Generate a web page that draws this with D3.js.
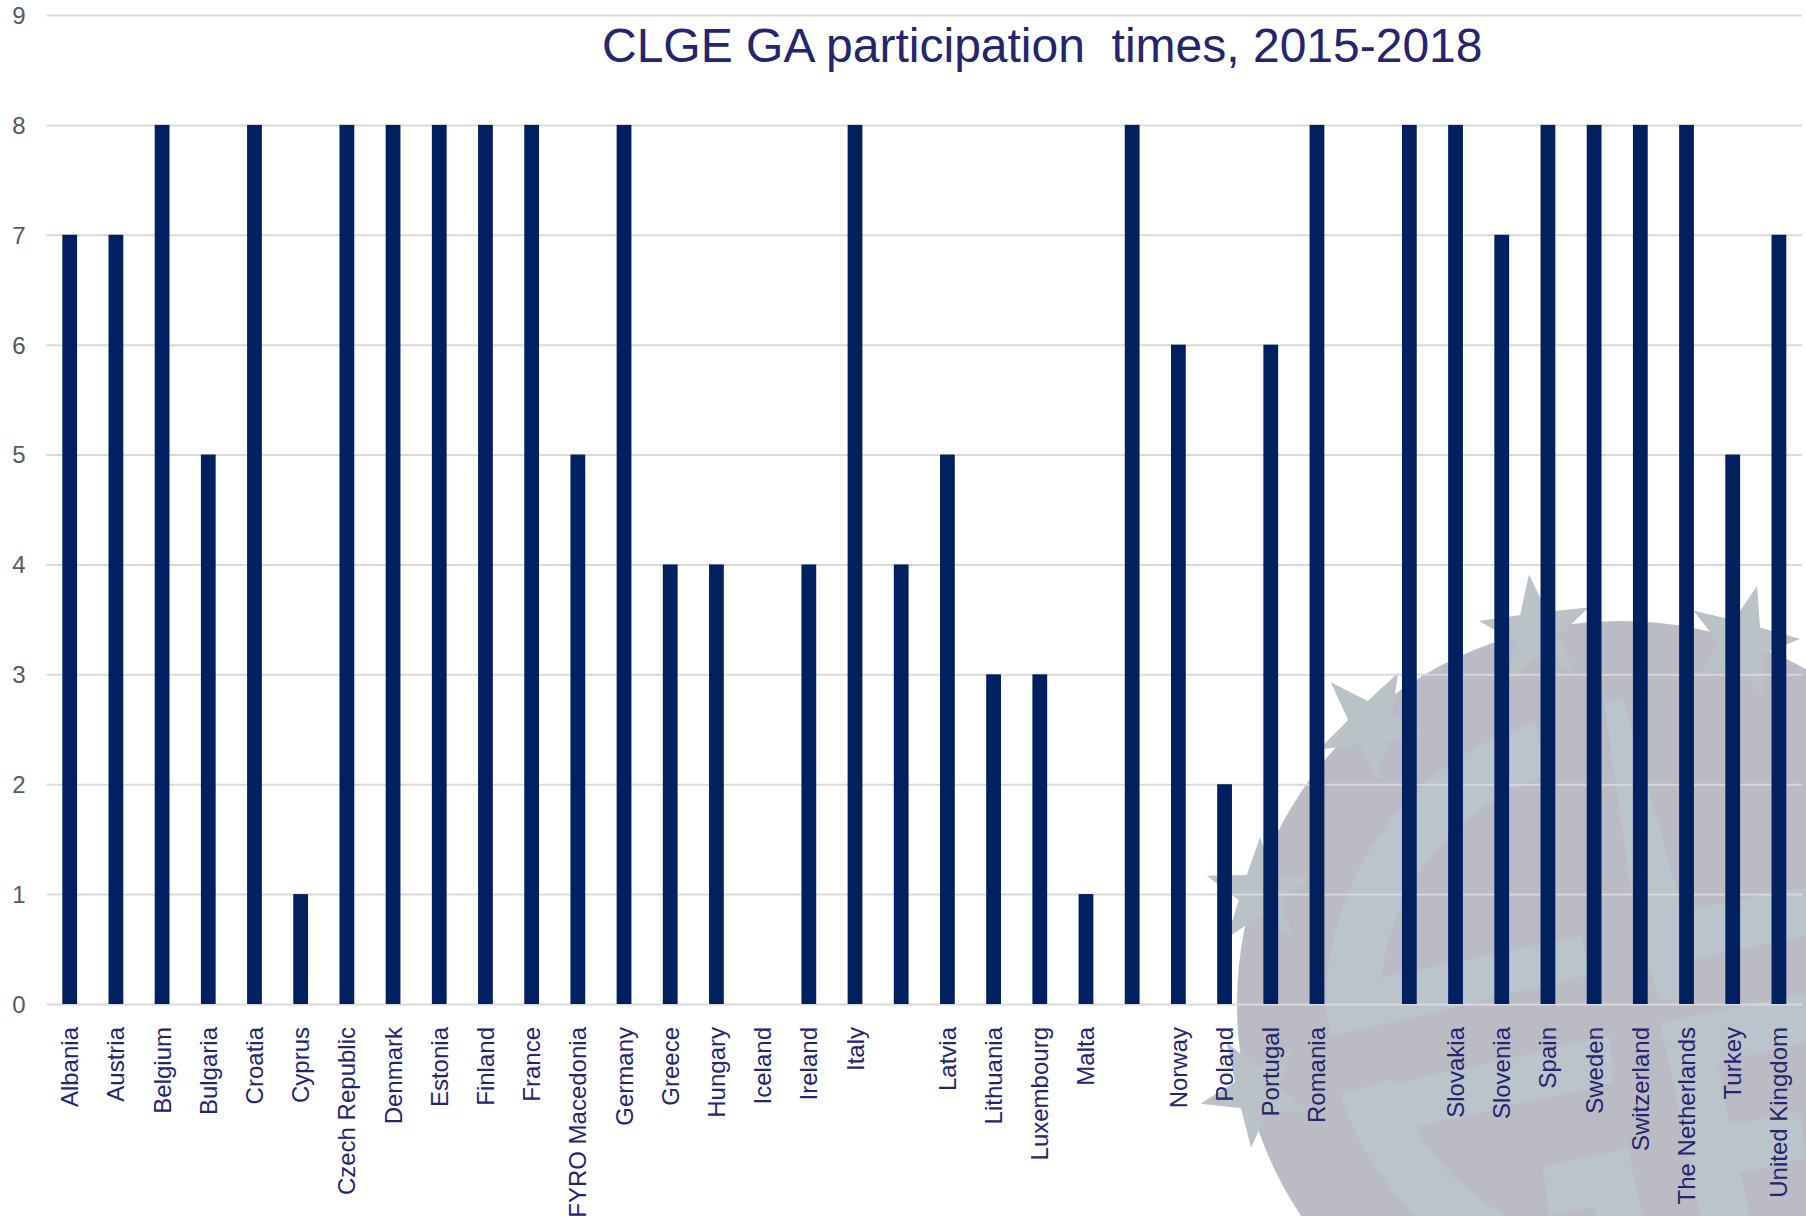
<!DOCTYPE html>
<html>
<head>
  <title>CLGE GA participation times</title>
  <script src="https://cdnjs.cloudflare.com/ajax/libs/d3/7.8.5/d3.min.js"></script>
  <style>
    html, body { margin: 0; background: #fff; }
    text { font-family: "Liberation Sans", Arial, sans-serif; }
  </style>
</head>
<body>
  <svg width="1806" height="1216"></svg>
<script>
var categories = ["Albania", "Austria", "Belgium", "Bulgaria", "Croatia", "Cyprus", "Czech Republic",
  "Denmark", "Estonia", "Finland", "France", "FYRO Macedonia", "Germany", "Greece", "Hungary",
  "Iceland", "Ireland", "Italy", "", "Latvia", "Lithuania", "Luxembourg", "Malta", "", "Norway",
  "Poland", "Portugal", "Romania", "", "", "Slovakia", "Slovenia", "Spain", "Sweden", "Switzerland",
  "The Netherlands", "Turkey", "United Kingdom"];
var times = [7, 7, 8, 5, 8, 1, 8, 8, 8, 8, 8, 5, 8, 4, 4, 0, 4, 8, 4, 5, 3, 3, 1, 8, 6, 2, 6, 8, 0, 8, 8, 7, 8, 8, 8, 8, 5, 7];
var yTicks = [0, 1, 2, 3, 4, 5, 6, 7, 8, 9];
var title = "CLGE GA participation  times, 2015-2018";

var svg = d3.select("svg"),
    margin = {top: 15, right: 4, bottom: 212, left: 46.6},
    width = +svg.attr("width") - margin.left - margin.right,
    height = +svg.attr("height") - margin.top - margin.bottom;

// watermark logo behind the chart (globe + stars)
var logo = svg.append("g");
var cx = 1620, cy = 1004, r = 383;
var lightColor = "#b9c4cc", darkColor = "#babbc5", starColor = "#b8c2c7";

svg.append("defs").append("clipPath")
    .attr("id", "globe")
  .append("circle")
    .attr("cx", cx).attr("cy", cy).attr("r", r);

logo.append("circle")
    .attr("cx", cx).attr("cy", cy).attr("r", r)
    .attr("fill", darkColor);

var inner = logo.append("g").attr("clip-path", "url(#globe)");

// ring segments round the globe
var ring = d3.arc().innerRadius(240).outerRadius(294);
[[-93, -17], [-155, -108]].forEach(function(a) {
  inner.append("path")
      .attr("transform", "translate(" + cx + "," + cy + ")")
      .attr("d", ring({startAngle: a[0] * Math.PI / 180, endAngle: a[1] * Math.PI / 180}))
      .attr("fill", lightColor);
});

// grid pieces on the globe
var patches = [
  [[1604, 702], [1623, 699], [1677, 890], [1694, 1000], [1658, 1000], [1631, 890]],
  [[1328, 1007], [1384, 977], [1581, 936], [1589, 975], [1330, 1037]],
  [[1647, 917], [1806, 887], [1806, 935], [1647, 970]],
  [[1341, 1095], [1610, 1036], [1613, 1083], [1415, 1127]],
  [[1543, 1167], [1628, 1148], [1642, 1216], [1597, 1216], [1593, 1207], [1549, 1216]],
  [[1660, 1023], [1806, 993], [1806, 1042], [1718, 1062], [1730, 1125], [1800, 1112], [1806, 1158], [1740, 1173], [1750, 1216], [1700, 1216], [1675, 1090]]
];
inner.selectAll(".patch").data(patches).join("polygon")
    .attr("class", "patch")
    .attr("points", function(d) { return d.join(" "); })
    .attr("fill", lightColor);

// five stars round the globe: centre x, centre y, radius, angle of one tip
var stars = [
  [1371, 724, 58, -62],
  [1536, 632, 58, -97],
  [1742, 642, 58, -75],
  [1260, 893, 56, -90],
  [1256, 1091, 57, 95]
];
var starPath = d3.lineRadial().curve(d3.curveLinearClosed);
logo.selectAll(".star").data(stars).join("path")
    .attr("class", "star")
    .attr("transform", function(d) { return "translate(" + d[0] + "," + d[1] + ")"; })
    .attr("d", function(d) {
      var pts = d3.range(10).map(function(i) {
        return [(d[3] + 90 + i * 36) * Math.PI / 180, i % 2 ? d[2] * 0.4 : d[2]];
      });
      return starPath(pts);
    })
    .attr("fill", starColor);

var g = svg.append("g").attr("transform", "translate(" + margin.left + "," + margin.top + ")");

var x = d3.scaleBand()
    .domain(d3.range(categories.length))
    .range([0, width])
    .paddingInner(0.68)
    .paddingOuter(0.34);

var y = d3.scaleLinear()
    .domain([0, 9])
    .range([height, 0]);

// gridlines and value labels
var yAxis = g.append("g")
    .attr("class", "axis axis--y")
    .call(d3.axisLeft(y).tickValues(yTicks).tickSize(-width).tickPadding(21));
yAxis.select(".domain").remove();
yAxis.selectAll(".tick line").attr("stroke", "#d9d9d9").attr("stroke-width", 2);
yAxis.selectAll(".tick text")
    .attr("fill", "#595959")
    .style("font-size", "24px")
    .attr("dy", "0.35em");

g.selectAll(".bar").data(times).join("rect")
    .attr("class", "bar")
    .attr("x", function(d, i) { return x(i); })
    .attr("y", function(d) { return y(d); })
    .attr("width", x.bandwidth())
    .attr("height", function(d) { return y(0) - y(d); })
    .attr("fill", "#002060");

var xAxis = g.append("g")
    .attr("class", "axis axis--x")
    .attr("transform", "translate(0," + height + ")")
    .call(d3.axisBottom(x).tickSize(0).tickFormat(function(i) { return categories[i]; }));
xAxis.select(".domain").remove();
xAxis.selectAll(".tick text")
    .attr("fill", "#24246f")
    .style("font-size", "24px")
    .attr("text-anchor", "end")
    .attr("dy", null)
    .attr("y", 0)
    .attr("x", 0)
    .attr("transform", "translate(8.5,23) rotate(-90)");

svg.append("text")
    .attr("x", 602)
    .attr("y", 62)
    .attr("fill", "#24246f")
    .style("font-size", "48px")
    .style("white-space", "pre")
    .text(title);
</script>
</body>
</html>
